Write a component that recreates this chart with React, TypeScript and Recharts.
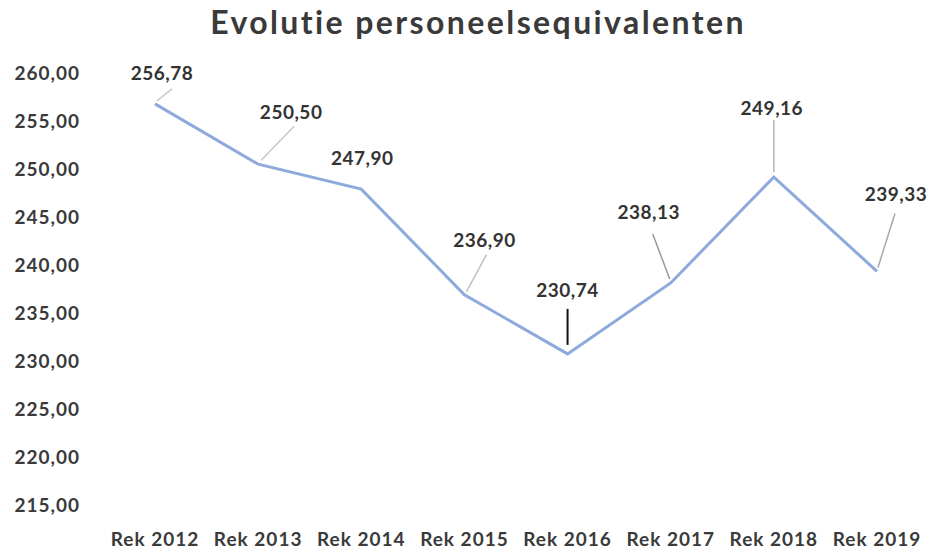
import { LineChart, Line, XAxis, YAxis, LabelList } from 'recharts';

const categories = ['Rek 2012', 'Rek 2013', 'Rek 2014', 'Rek 2015', 'Rek 2016', 'Rek 2017', 'Rek 2018', 'Rek 2019'];
const personeel = [256.78, 250.5, 247.9, 236.9, 230.74, 238.13, 249.16, 239.33];
const yTicks = [215, 220, 225, 230, 235, 240, 245, 250, 255, 260];

const data = categories.map((name, i) => ({ name, value: personeel[i] }));

// label placement relative to each point: [dx, dy, leader x1, y1, x2, y2, leader colour]
const labelPlacement: [number, number, number, number, number, number, string][] = [
  [7, -31, 2, -3, 17, -15, '#c8c8c8'],
  [33, -53, 3, -4, 36, -38, '#c8c8c8'],
  [1, -32, 0, 0, 0, 0, 'none'],
  [20, -55, 2, -3, 22, -40, '#bdbdbd'],
  [0, -64, 0, -9, 0, -45, '#111111'],
  [-22, -71, -1, -4, -18, -49, '#9a9a9a'],
  [-2, -70, 0, -5, 0, -57, '#b5b5b5'],
  [19, -78, 1, -4, 18, -58, '#a8a8a8'],
];

const fmt = (v: number) => v.toFixed(2).replace('.', ',');
const font = 'Lato, "Open Sans", sans-serif';

const PointLabel = (props: any) => {
  const { x, y, value, index } = props;
  const [dx, dy, x1, y1, x2, y2, col] = labelPlacement[index];
  return (
    <g>
      {col !== 'none' && (
        <line x1={x + x1} y1={y + y1} x2={x + x2} y2={y + y2} stroke={col} strokeWidth={index === 4 ? 2 : 1.5} />
      )}
      <text
        x={x + dx}
        y={y + dy}
        textAnchor="middle"
        dominantBaseline="central"
        fill="#333333"
        fontFamily={font}
        fontWeight={700}
        fontSize={19}
        letterSpacing={0.5}
      >
        {fmt(value)}
      </text>
    </g>
  );
};

const tickStyle = { fill: '#3a3a3a', fontSize: 19, fontWeight: 700, fontFamily: font, letterSpacing: 1 };

export default function App() {
  return (
    <div style={{ position: 'absolute', left: 0, top: 0, width: 931, height: 556, background: '#ffffff' }}>
      <div
        style={{
          position: 'absolute',
          left: 0,
          width: 956,
          top: 4,
          textAlign: 'center',
          fontFamily: font,
          fontSize: 32,
          fontWeight: 700,
          letterSpacing: 2.4,
          color: '#3a3a3a',
          lineHeight: '36px',
        }}
      >
        Evolutie personeelsequivalenten
      </div>
      <LineChart width={931} height={556} data={data} margin={{ top: 73, right: 3, bottom: 11, left: 15 }}>
        <XAxis
          dataKey="name"
          axisLine={false}
          tickLine={false}
          tickMargin={22}
          height={40}
          interval={0}
          padding={{ left: 52, right: 51 }}
          tick={tickStyle}
        />
        <YAxis
          domain={[215, 260]}
          ticks={yTicks}
          axisLine={false}
          tickLine={false}
          tickMargin={17}
          width={88}
          tickFormatter={fmt}
          tick={tickStyle}
        />
        <Line
          type="linear"
          dataKey="value"
          stroke="#8eaadc"
          strokeWidth={3}
          dot={false}
          isAnimationActive={false}
        >
          <LabelList dataKey="value" content={PointLabel} />
        </Line>
      </LineChart>
    </div>
  );
}
